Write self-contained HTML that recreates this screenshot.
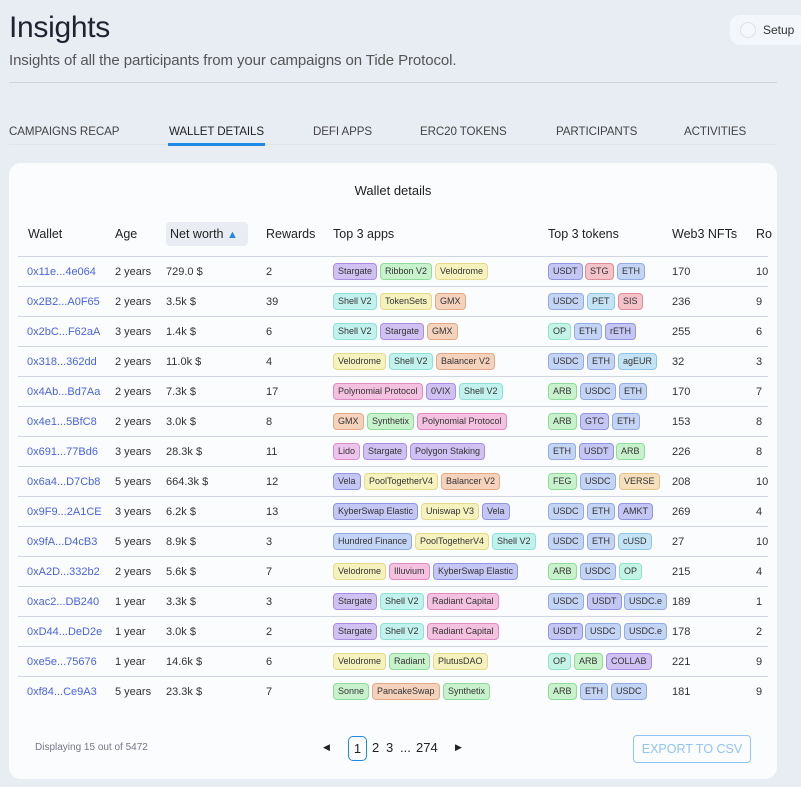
<!DOCTYPE html>
<html><head><meta charset="utf-8"><style>
*{box-sizing:border-box;margin:0;padding:0}
body{width:801px;height:787px;overflow:hidden;background:#e8edf3;font-family:"Liberation Sans",sans-serif;color:#222;position:relative}
.abs{position:absolute}
h1{position:absolute;left:9px;top:11px;font-size:30px;font-weight:500;color:#1d2330;letter-spacing:-0.3px}
.sub{left:9px;top:52px;font-size:15px;color:#555;font-weight:300;letter-spacing:-0.1px}
.hr{left:9px;top:82px;width:768px;height:1px;background:#cfd4db}
.setup{left:730px;top:15px;width:80px;height:30px;background:#f3f6fa;border-radius:10px;font-size:12px;color:#333}
.setup .c{position:absolute;left:10px;top:7px;width:16px;height:16px;border-radius:50%;border:1px solid #dde2e8;background:#f6f8fb}
.setup span{position:absolute;left:33px;top:8px}
.tab{top:125px;font-size:11.6px;color:#444;letter-spacing:-0.1px}
.tabline{left:9px;top:144px;width:768px;height:1px;background:#dfe6ee}
.tabsel{left:168px;top:143px;width:97px;height:3px;background:#1e88e5}
.card{left:9px;top:163px;width:768px;height:616px;background:#fbfcfe;border-radius:12px;overflow:hidden}
.title{left:0;width:768px;top:20px;text-align:center;font-size:13px;color:#222}
.th{top:64px;font-size:12.5px;color:#222}
.sortbox{left:157px;top:59px;width:82px;height:24px;background:#e9edf3;border-radius:4px}
.line{left:9px;width:750px;height:1px;background:#cfd6df}
.cell{font-size:11px;color:#333}
.w{color:#4a63e0}
.tag{position:absolute;height:17px;line-height:15px;padding:0 4px;font-size:9px;border-radius:4px;border:1px solid;color:#333;white-space:nowrap}
.pu{background:#cfc2f2;border-color:#a98de3}
.gr{background:#c8f2cc;border-color:#8fdb9a}
.ye{background:#f6f2bd;border-color:#e3da8c}
.te{background:#c2f2ee;border-color:#8fe0d8}
.or{background:#f4d2bc;border-color:#e4aa88}
.pk{background:#f4c2e0;border-color:#e08bc3}
.bp{background:#c4c6f4;border-color:#9196e3}
.bl{background:#c4d4f4;border-color:#93abe3}
.re{background:#f4c2c9;border-color:#e28c99}
.lb{background:#c4e4f6;border-color:#90c7e6}
.mi{background:#c4f4e6;border-color:#8fe3c8}
.ov{background:#f6dfbc;border-color:#e6c38e}
.pkl{background:#efc4ec;border-color:#d98fd3}
</style></head><body>
<h1>Insights</h1>
<div class="abs sub">Insights of all the participants from your campaigns on Tide Protocol.</div>
<div class="abs hr"></div>
<div class="abs setup"><div class="c"></div><span>Setup</span></div>
<div class="abs tab" style="left:9px">CAMPAIGNS RECAP</div>
<div class="abs tab" style="left:169px;color:#222">WALLET DETAILS</div>
<div class="abs tab" style="left:313px">DEFI APPS</div>
<div class="abs tab" style="left:420px">ERC20 TOKENS</div>
<div class="abs tab" style="left:556px">PARTICIPANTS</div>
<div class="abs tab" style="left:684px">ACTIVITIES</div>
<div class="abs tabline"></div>
<div class="abs tabsel"></div>
<div class="abs card" id="card">
<div class="abs title">Wallet details</div>
<div class="abs sortbox"></div>
<div class="abs th" style="left:19px">Wallet</div>
<div class="abs th" style="left:106px">Age</div>
<div class="abs th" style="left:161px">Net worth <span style="color:#1e88e5;font-size:11px">&#9650;</span></div>
<div class="abs th" style="left:257px">Rewards</div>
<div class="abs th" style="left:324px">Top 3 apps</div>
<div class="abs th" style="left:539px">Top 3 tokens</div>
<div class="abs th" style="left:663px">Web3 NFTs</div>
<div class="abs th" style="left:747px">Ro</div>
<div class="abs cell" style="left:26px;top:579px;font-size:10px;color:#778">Displaying 15 out of 5472</div>
<div class="abs" style="left:314px;top:579px;font-size:9px;color:#222">&#9664;</div>
<div class="abs" style="left:339px;top:573px;width:19px;height:25px;border:1px solid #1e88e5;border-radius:5px;font-size:13px;text-align:center;line-height:23px">1</div>
<div class="abs" style="left:363px;top:577px;font-size:13px">2</div>
<div class="abs" style="left:377px;top:577px;font-size:13px">3</div>
<div class="abs" style="left:391px;top:577px;font-size:13px">...</div>
<div class="abs" style="left:407px;top:577px;font-size:13px">274</div>
<div class="abs" style="left:446px;top:579px;font-size:9px;color:#222">&#9654;</div>
<div class="abs" style="left:624px;top:572px;width:118px;height:28px;border:1px solid #90c4f3;border-radius:4px;color:#90c4f3;font-size:12.5px;text-align:center;line-height:26px">EXPORT TO CSV</div>
</div>
<script>
const wallets=["0x11e...4e064","0x2B2...A0F65","0x2bC...F62aA","0x318...362dd","0x4Ab...Bd7Aa","0x4e1...5BfC8","0x691...77Bd6","0x6a4...D7Cb8","0x9F9...2A1CE","0x9fA...D4cB3","0xA2D...332b2","0xac2...DB240","0xD44...DeD2e","0xe5e...75676","0xf84...Ce9A3"];
const ages=["2 years","2 years","3 years","2 years","2 years","2 years","3 years","5 years","3 years","5 years","2 years","1 year","1 year","1 year","5 years"];
const worth=["729.0 $","3.5k $","1.4k $","11.0k $","7.3k $","3.0k $","28.3k $","664.3k $","6.2k $","8.9k $","5.6k $","3.3k $","3.0k $","14.6k $","23.3k $"];
const rewards=[2,39,6,4,17,8,11,12,13,3,7,3,2,6,7];
const apps=[["Stargate","Ribbon V2","Velodrome"],["Shell V2","TokenSets","GMX"],["Shell V2","Stargate","GMX"],["Velodrome","Shell V2","Balancer V2"],["Polynomial Protocol","0VIX","Shell V2"],["GMX","Synthetix","Polynomial Protocol"],["Lido","Stargate","Polygon Staking"],["Vela","PoolTogetherV4","Balancer V2"],["KyberSwap Elastic","Uniswap V3","Vela"],["Hundred Finance","PoolTogetherV4","Shell V2"],["Velodrome","Illuvium","KyberSwap Elastic"],["Stargate","Shell V2","Radiant Capital"],["Stargate","Shell V2","Radiant Capital"],["Velodrome","Radiant","PlutusDAO"],["Sonne","PancakeSwap","Synthetix"]];
const tokens=[["USDT","STG","ETH"],["USDC","PET","SIS"],["OP","ETH","rETH"],["USDC","ETH","agEUR"],["ARB","USDC","ETH"],["ARB","GTC","ETH"],["ETH","USDT","ARB"],["FEG","USDC","VERSE"],["USDC","ETH","AMKT"],["USDC","ETH","cUSD"],["ARB","USDC","OP"],["USDC","USDT","USDC.e"],["USDT","USDC","USDC.e"],["OP","ARB","COLLAB"],["ARB","ETH","USDC"]];
const nfts=[170,236,255,32,170,153,226,208,269,27,215,189,178,221,181];
const lastCol=[10,9,6,3,7,8,8,10,4,10,4,1,2,9,9];
const colors={"Stargate":"pu","Ribbon V2":"gr","Velodrome":"ye","Shell V2":"te","TokenSets":"ye","GMX":"or","Balancer V2":"or","Polynomial Protocol":"pk","0VIX":"pu","Synthetix":"gr","Lido":"pkl","Polygon Staking":"pu","Vela":"bp","PoolTogetherV4":"ye","KyberSwap Elastic":"bp","Uniswap V3":"ye","Hundred Finance":"bl","Illuvium":"pk","Radiant Capital":"pk","Radiant":"gr","PlutusDAO":"ye","Sonne":"gr","PancakeSwap":"or",
"USDT":"bp","STG":"re","ETH":"bl","USDC":"bl","PET":"lb","SIS":"re","OP":"mi","rETH":"bp","agEUR":"lb","ARB":"gr","GTC":"bp","FEG":"gr","VERSE":"ov","AMKT":"bp","cUSD":"lb","USDC.e":"bl","COLLAB":"pu"};
const card=document.getElementById('card');
const rowH=30,top0=93;
function mk(cls,left,top,text){const d=document.createElement('div');d.className=cls;d.style.left=left+'px';d.style.top=top+'px';d.textContent=text;card.appendChild(d);return d;}
const meas=document.createElement('canvas').getContext('2d');meas.font='9px "Liberation Sans", sans-serif';
for(let i=0;i<wallets.length;i++){
 const y=top0+i*rowH;
 const ln=mk('abs line',9,y,'');
 
 
 const ty=y+10;
 let e=mk('abs cell w',18,ty,wallets[i]);
 
 
 e=mk('abs cell',106,ty,ages[i]);
 
 
 e=mk('abs cell',157,ty,worth[i]);
 
 
 e=mk('abs cell',257,ty,String(rewards[i]));
 
 
 e=mk('abs cell',663,ty,String(nfts[i]));
 
 
 e=mk('abs cell',747,ty,String(lastCol[i]));
 
 
 let x=324;
 for(const a of apps[i]){const t=mk('tag '+(colors[a]||'pu'),x,y+7,a);
  
  
  x+=Math.round(meas.measureText(a).width)+10+3;}
 x=539;
 for(const a of tokens[i]){const t=mk('tag '+(colors[a]||'bl'),x,y+7,a);
  
  
  x+=Math.round(meas.measureText(a).width)+10+3;}
}
</script>
</body></html>
